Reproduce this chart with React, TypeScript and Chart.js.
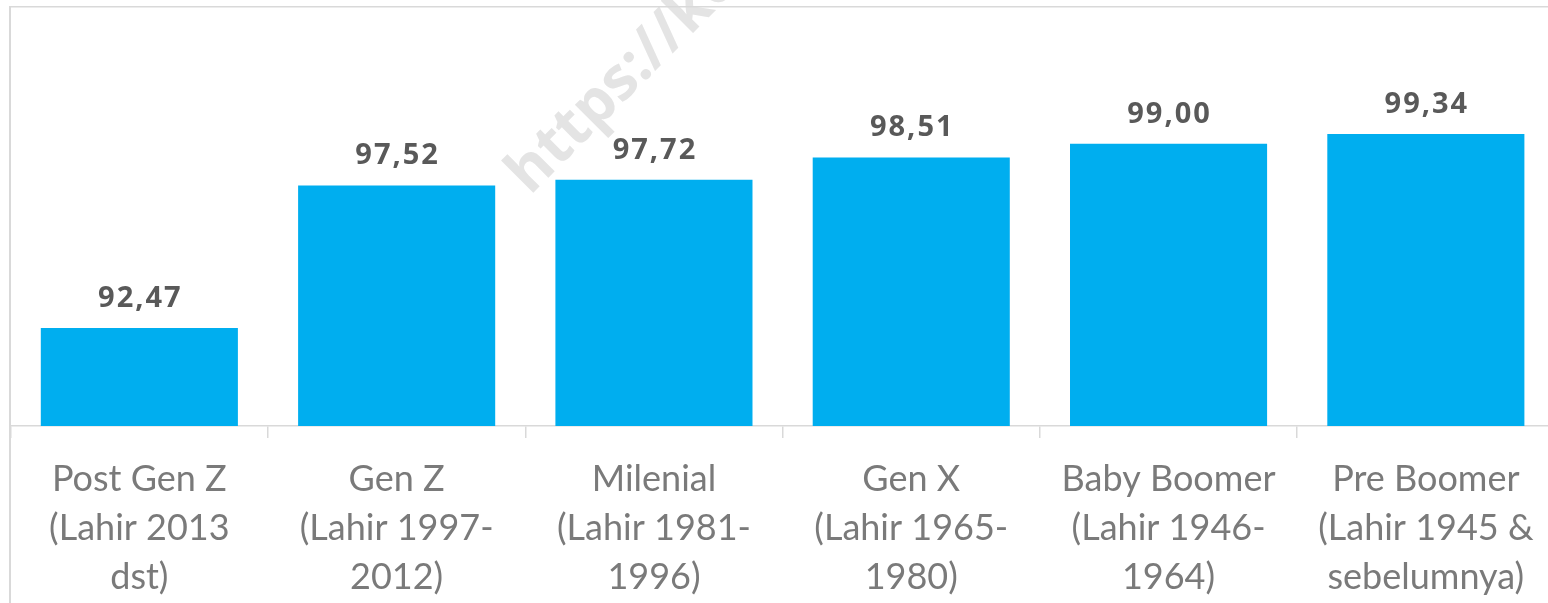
import React, { useEffect, useRef } from "react";
import { Chart, registerables } from "chart.js";

Chart.register(...registerables);

const categories: string[][] = [
  ["Post Gen Z", "(Lahir 2013", "dst)"],
  ["Gen Z", "(Lahir 1997-", "2012)"],
  ["Milenial", "(Lahir 1981-", "1996)"],
  ["Gen X", "(Lahir 1965-", "1980)"],
  ["Baby Boomer", "(Lahir 1946-", "1964)"],
  ["Pre Boomer", "(Lahir 1945 &", "sebelumnya)"],
];
const values: number[] = [92.47, 97.52, 97.72, 98.51, 99.0, 99.34];
const yMin = 89;
const yMax = 100;
const watermark = "https://ke";

const W = 1560;
const H = 603;
const BAR_COLOR = "#00AEEF";
const LINE_COLOR = "#d9d9d9";

const fmt = (v: number) => v.toFixed(2).replace(".", ",");

const decor = {
  id: "decor",
  beforeDatasetsDraw(chart: any) {
    const ctx = chart.ctx as CanvasRenderingContext2D;
    ctx.save();
    ctx.translate(530, 196);
    ctx.rotate((-45 * Math.PI) / 180);
    ctx.font = "bold 60px 'Open Sans'";
    ctx.fillStyle = "#e4e4e4";
    ctx.textAlign = "left";
    ctx.textBaseline = "alphabetic";
    ctx.fillText(watermark, 0, 0);
    ctx.restore();
  },
  afterDatasetsDraw(chart: any) {
    const ctx = chart.ctx as CanvasRenderingContext2D;
    const meta = chart.getDatasetMeta(0);
    ctx.save();
    ctx.font = "bold 29px 'Open Sans'";
    (ctx as any).letterSpacing = "2px";
    ctx.fillStyle = "#595959";
    ctx.textAlign = "center";
    ctx.textBaseline = "alphabetic";
    meta.data.forEach((bar: any, i: number) => {
      ctx.fillText(fmt(values[i]), bar.x + 1, bar.y - 21);
    });
    ctx.restore();
  },
  afterDraw(chart: any) {
    const ctx = chart.ctx as CanvasRenderingContext2D;
    ctx.save();
    ctx.fillStyle = LINE_COLOR;
    ctx.fillRect(9, 6, 2, H);
    ctx.fillRect(9, 6, W, 1.5);
    ctx.restore();
  },
};

export default function App() {
  const ref = useRef<HTMLCanvasElement | null>(null);

  useEffect(() => {
    if (!ref.current) return;
    const chart = new Chart(ref.current, {
      type: "bar",
      data: {
        labels: categories,
        datasets: [
          {
            data: values,
            backgroundColor: BAR_COLOR,
            borderWidth: 0,
            categoryPercentage: 1,
            barPercentage: 0.766,
          },
        ],
      },
      options: {
        responsive: false,
        animation: false,
        devicePixelRatio: 1,
        layout: { padding: { left: 10.7, right: 5.5, top: 115.4, bottom: 0 } },
        plugins: {
          legend: { display: false },
          tooltip: { enabled: false },
          title: { display: false },
        },
        scales: {
          x: {
            afterFit: (scale: any) => {
              scale.height = H - 426;
            },
            grid: {
              display: true,
              drawOnChartArea: false,
              drawTicks: true,
              tickLength: 12,
              offset: true,
              color: LINE_COLOR,
              lineWidth: 1.5,
            },
            border: { display: true, color: LINE_COLOR, width: 1.5 },
            ticks: {
              autoSkip: false,
              maxRotation: 0,
              minRotation: 0,
              padding: 17,
              color: "#7a7a7a",
              font: { family: "Lato", size: 36, lineHeight: 1.36 },
            },
          },
          y: {
            display: false,
            min: yMin,
            max: yMax,
          },
        },
      },
      plugins: [decor],
    });
    return () => chart.destroy();
  }, []);

  return (
    <div
      style={{
        position: "fixed",
        left: 0,
        top: 0,
        width: 1548,
        height: H,
        overflow: "hidden",
        background: "#fff",
      }}
    >
      <canvas
        ref={ref}
        width={W}
        height={H}
        style={{ display: "block", width: W, height: H }}
      />
    </div>
  );
}
